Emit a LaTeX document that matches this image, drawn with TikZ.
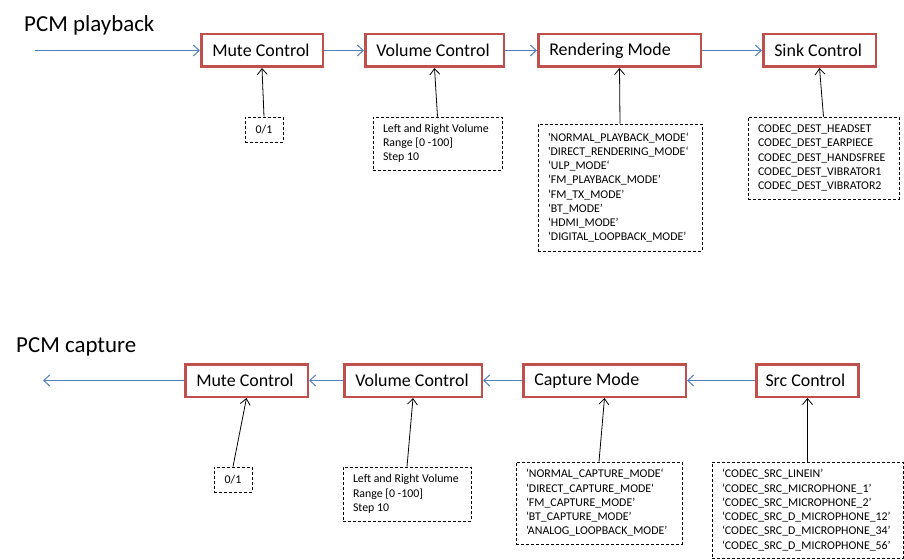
\documentclass[tikz,border=0pt]{standalone}
\usepackage{fontspec}
\setmainfont{Carlito}
\usetikzlibrary{arrows.meta}
\definecolor{boxred}{HTML}{C0504D}
\definecolor{flowblue}{HTML}{4F81BD}

\begin{document}
\begin{tikzpicture}[x=1bp, y=-1bp,
	ctrl/.style={draw=boxred, line width=2.5bp, rectangle, minimum height=32.5bp, inner xsep=11bp, inner ysep=0pt, align=flush left, font=\fontsize{18}{20}\selectfont},
	note/.style={draw, dash pattern=on 3bp off 2bp, line width=0.7bp, rectangle, inner xsep=10bp, inner ysep=3bp, align=flush left, font=\fontsize{11.9}{14.3}\selectfont},
	flow/.style={draw=flowblue, line width=1bp, -{Straight Barb[length=6bp,width=11bp]}},
	feed/.style={draw=black, line width=0.8bp, -{Straight Barb[length=6bp,width=10bp]}},
	title/.style={anchor=base west, inner sep=0pt, font=\fontsize{23}{26}\selectfont}]
	\useasboundingbox (0,0) rectangle (904,560);

	% playback chain
	\node[title] (tplay) at (24,31.5) {PCM playback};
	\coordinate (pin) at (35,50.5);
	\node[ctrl, text width=99.5bp]  (pmute) at (262,50.5)   {Mute Control};
	\node[ctrl, text width=116.5bp] (pvol)  at (434.5,50.5) {Volume Control};
	\node[ctrl, text width=140.5bp] (prend) at (619.5,50.5) {Rendering Mode};
	\node[ctrl, text width=90.5bp]  (psink) at (819.5,50.5) {Sink Control};

	\node[note, align=center, text width=18bp, minimum height=25bp] (pmutev) at (264,129.5) {0/1};
	\node[note, text width=109bp, minimum height=53bp] (pvolv) at (437.5,143.5)
		{Left and Right Volume\\Range [0 -100]\\Step 10};
	\node[note, text width=144bp, minimum height=127bp] (prendv) at (620,187.5)
		{\textquotesingle NORMAL\_PLAYBACK\_MODE‘\\\textquotesingle DIRECT\_RENDERING\_MODE‘\\‘ULP\_MODE‘\\‘FM\_PLAYBACK\_MODE’\\‘FM\_TX\_MODE’\\‘BT\_MODE’\\‘HDMI\_MODE’\\‘DIGITAL\_LOOPBACK\_MODE’};
	\node[note, text width=131bp, minimum height=82bp] (psinkv) at (823.5,158)
		{CODEC\_DEST\_HEADSET\\CODEC\_DEST\_EARPIECE\\CODEC\_DEST\_HANDSFREE\\CODEC\_DEST\_VIBRATOR1\\CODEC\_DEST\_VIBRATOR2};

	\draw[flow] (pin) -- (pmute);
	\draw[flow] (pmute) -- (pvol);
	\draw[flow] (pvol) -- (prend);
	\draw[flow] (prend) -- (psink);

	\draw[feed] (pmutev.north) -- (pmute.south);
	\draw[feed] (pvolv.north) -- (pvol.south);
	\draw[feed] (prendv.north) -- (prend.south);
	\draw[feed] (psinkv.north) -- (psink.south);

	% capture chain
	\node[title] (tcap) at (16,353) {PCM capture};
	\coordinate (cout) at (43,380.5);
	\node[ctrl, text width=100.5bp] (cmute) at (246.5,380.5) {Mute Control};
	\node[ctrl, text width=115.5bp] (cvol)  at (413,380.5)   {Volume Control};
	\node[ctrl, text width=140.5bp] (ccap)  at (604.5,380.5) {Capture Mode};
	\node[ctrl, text width=84bp, inner xsep=9bp] (csrc) at (807.5,380.5) {Src Control};

	\node[note, align=center, text width=18bp, minimum height=25bp] (cmutev) at (233,479.5) {0/1};
	\node[note, text width=108bp, minimum height=54bp] (cvolv) at (407,494)
		{Left and Right Volume\\Range [0 -100]\\Step 10};
	\node[note, text width=146bp, minimum height=82bp] (ccapv) at (599,503)
		{‘NORMAL\_CAPTURE\_MODE‘\\‘DIRECT\_CAPTURE\_MODE‘\\‘FM\_CAPTURE\_MODE’\\‘BT\_CAPTURE\_MODE’\\‘ANALOG\_LOOPBACK\_MODE’};
	\node[note, text width=171bp, minimum height=96bp] (csrcv) at (807.5,510)
		{‘CODEC\_SRC\_LINEIN’\\‘CODEC\_SRC\_MICROPHONE\_1’\\‘CODEC\_SRC\_MICROPHONE\_2’\\‘CODEC\_SRC\_D\_MICROPHONE\_12’\\‘CODEC\_SRC\_D\_MICROPHONE\_34’\\‘CODEC\_SRC\_D\_MICROPHONE\_56’};

	\draw[flow] (csrc) -- (ccap);
	\draw[flow] (ccap) -- (cvol);
	\draw[flow] (cvol) -- (cmute);
	\draw[flow] (cmute) -- (cout);

	\draw[feed] (cmutev.north) -- (cmute.south);
	\draw[feed] (cvolv.north) -- (cvol.south);
	\draw[feed] (ccapv.north) -- (ccap.south);
	\draw[feed] (csrcv.north) -- (csrc.south);
\end{tikzpicture}
\end{document}
